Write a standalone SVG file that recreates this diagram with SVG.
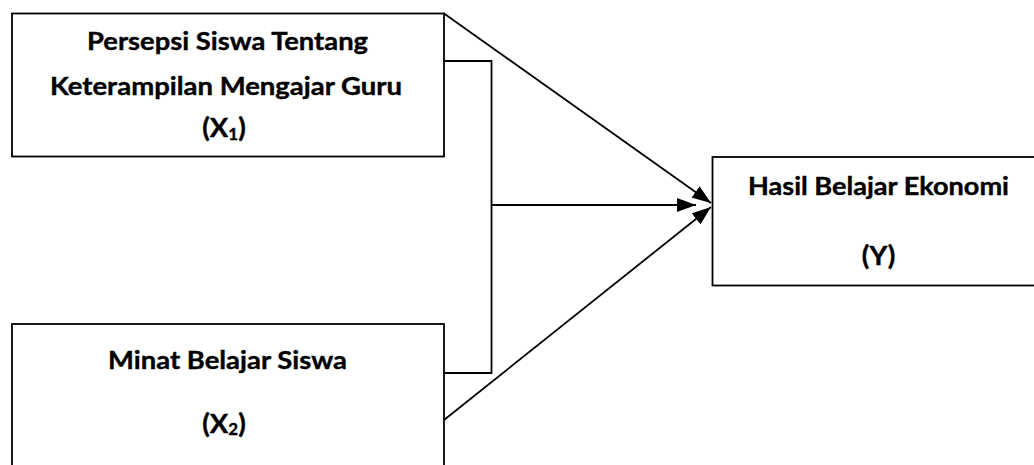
<svg xmlns="http://www.w3.org/2000/svg" width="1034" height="465" viewBox="0 0 1034 465">
  <style>
    .box { fill: #ffffff; stroke: #000000; stroke-width: 1.8; }
    .lbl { font-family: Lato, "Open Sans", "Liberation Sans", sans-serif; font-weight: bold; font-size: 25.5px; fill: #000000; stroke: #000000; stroke-width: 0.4; text-anchor: middle; }
    .var { font-size: 27.5px; }
    .sub { font-size: 17px; }
    .edge { fill: none; stroke: #000000; stroke-width: 1.8; }
  </style>
  <defs>
    <marker id="arrow" markerUnits="userSpaceOnUse" markerWidth="20" markerHeight="14" refX="19" refY="7" orient="auto">
      <path d="M0,0 L19,7 L0,14 z" fill="#000000"/>
    </marker>
  </defs>
  <rect width="1034" height="465" fill="#ffffff"/>

  <!-- connectors -->
  <g id="connectors">
    <path class="edge" d="M444,61 H491.5 V373 H444"/>
    <line class="edge" x1="491.5" y1="205" x2="696" y2="205" marker-end="url(#arrow)"/>
    <line class="edge" x1="444" y1="13.5" x2="711" y2="203" marker-end="url(#arrow)"/>
    <line class="edge" x1="444" y1="420" x2="711" y2="207" marker-end="url(#arrow)"/>
  </g>

  <!-- X1 -->
  <g id="node-x1">
    <rect class="box" x="12" y="13.5" width="432" height="143"/>
    <text class="lbl" x="227.5" y="50" textLength="281" lengthAdjust="spacingAndGlyphs">Persepsi Siswa Tentang</text>
    <text class="lbl" x="226" y="94.5" textLength="352" lengthAdjust="spacingAndGlyphs">Keterampilan Mengajar Guru</text>
    <text class="lbl var" x="224" y="137">(X<tspan class="sub" dy="2.5">1</tspan><tspan dy="-2.5">)</tspan></text>
  </g>

  <!-- X2 -->
  <g id="node-x2">
    <rect class="box" x="12" y="324" width="432" height="170"/>
    <text class="lbl" x="227.5" y="368.5" textLength="239" lengthAdjust="spacingAndGlyphs">Minat Belajar Siswa</text>
    <text class="lbl var" x="224" y="432.5">(X<tspan class="sub" dy="2.5">2</tspan><tspan dy="-2.5">)</tspan></text>
  </g>

  <!-- Y -->
  <g id="node-y">
    <rect class="box" x="712.5" y="157" width="332" height="128.5"/>
    <text class="lbl" x="878.5" y="195" textLength="261" lengthAdjust="spacingAndGlyphs">Hasil Belajar Ekonomi</text>
    <text class="lbl var" x="878.5" y="265">(Y)</text>
  </g>
</svg>
